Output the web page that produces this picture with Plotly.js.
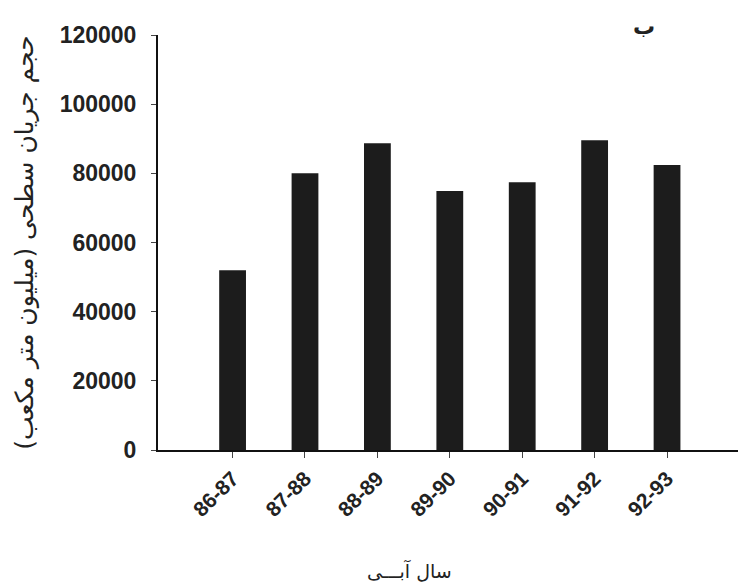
<!DOCTYPE html>
<html>
<head>
<meta charset="utf-8">
<script src="https://cdn.plot.ly/plotly-3.0.1.min.js"></script>
<style>html,body{margin:0;padding:0;background:#fff;}#chart{width:738px;height:588px;}</style>
</head>
<body>
<div id="chart"></div>
<script>
const categories = ["86-87", "87-88", "88-89", "89-90", "90-91", "91-92", "92-93"];
const volumes = [52000, 80000, 88700, 74900, 77400, 89600, 82400];
const yTicks = [0, 20000, 40000, 60000, 80000, 100000, 120000];
const yTitle = "حجم جریان سطحی (میلیون متر مکعب)";
const xTitle = "سال آبـــی";
const panelLabel = "ب";

const trace = {
  type: "bar",
  x: categories,
  y: volumes,
  marker: {color: "#1c1c1c", line: {width: 0}},
  hoverinfo: "x+y"
};

const layout = {
  width: 738, height: 588,
  margin: {l: 158, r: 0, t: 35, b: 138, pad: 0},
  paper_bgcolor: "#ffffff",
  plot_bgcolor: "#ffffff",
  showlegend: false,
  bargap: 0.63,
  font: {family: "Liberation Sans, Arial, sans-serif", color: "#222"},
  xaxis: {
    type: "category",
    range: [-1.03, 6.98],
    showline: true, linecolor: "#111", linewidth: 2,
    ticks: "outside", ticklen: 6, tickcolor: "#444", tickwidth: 1,
    tickangle: -45,
    tickfont: {family: "Liberation Sans, Arial, sans-serif", size: 21, color: "#222", weight: "bold"},
    showgrid: false, zeroline: false
  },
  yaxis: {
    range: [0, 120000],
    tickvals: yTicks,
    ticktext: yTicks.map(String),
    showline: true, linecolor: "#111", linewidth: 2,
    ticks: "outside", ticklen: 5, tickcolor: "#444", tickwidth: 1,
    ticklabelstandoff: 10,
    tickfont: {family: "Liberation Sans, Arial, sans-serif", size: 23, color: "#222", weight: "bold"},
    showgrid: false, zeroline: false,
    title: {text: yTitle, font: {family: "DejaVu Sans, sans-serif", size: 25, color: "#222"}, standoff: 19}
  },
  annotations: [{
    text: panelLabel, xref: "paper", yref: "paper", x: 0.838, y: 1.02,
    xanchor: "center", yanchor: "middle",
    showarrow: false, font: {family: "DejaVu Sans, sans-serif", size: 22, color: "#222", weight: "bold"}
  }, {
    text: xTitle, xref: "paper", yref: "paper", x: 0.434, y: -0.29,
    xanchor: "center", yanchor: "middle",
    showarrow: false, font: {family: "DejaVu Sans, sans-serif", size: 19, color: "#222"}
  }]
};

Plotly.newPlot("chart", [trace], layout, {displayModeBar: false, staticPlot: true});
</script>
</body>
</html>
